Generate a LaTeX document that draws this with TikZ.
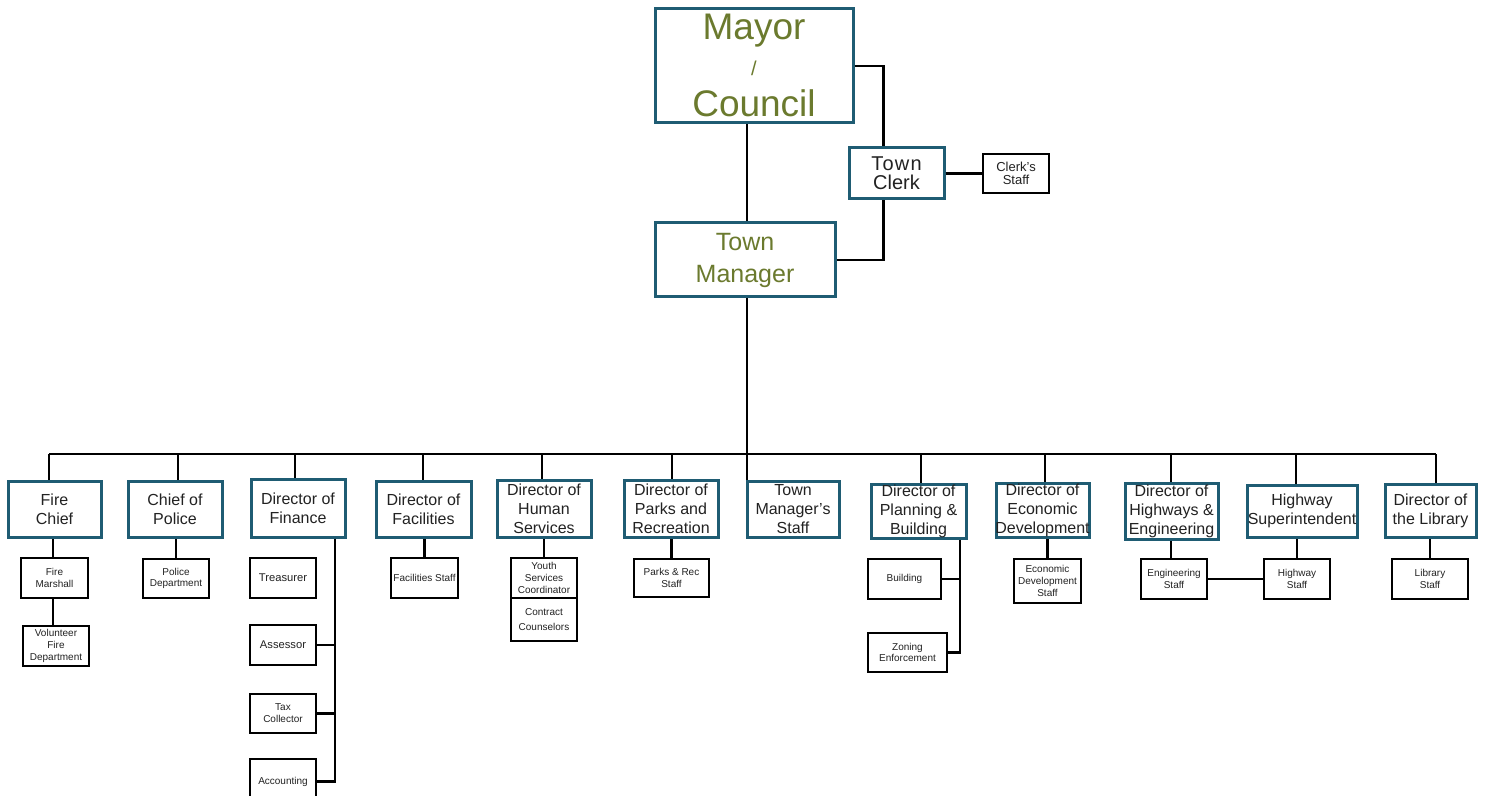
\documentclass[tikz,border=0pt]{standalone}
\usepackage{fontspec}
\setmainfont{Liberation Sans}
\definecolor{tealb}{HTML}{1F5C73}
\definecolor{oliveT}{HTML}{6B7A2E}
\definecolor{darkT}{HTML}{222222}
\newcommand\orgbox[8]{%
  \pgfmathsetmacro\obcx{(#3+#5)/2}%
  \pgfmathsetmacro\obcy{(#4+#6)/2}%
  \pgfmathsetmacro\obw{(#5-#3)/2}%
  \pgfmathsetmacro\obh{(#6-#4)/2}%
  \node[#1, minimum width=\obw pt, minimum height=\obh pt] (#2) at (\obcx,\obcy) {};
  \node[#7] (#2-t) at (#2.center) {#8};}
\begin{document}
\begin{tikzpicture}[x=0.5pt,y=-0.5pt,
  tbox/.style={draw=tealb, line width=1.5pt, fill=white, inner sep=0pt},
  kbox/.style={draw=black, line width=1.4pt, fill=white, inner sep=0pt},
  ttwo/.style={inner sep=0pt, align=center, text=darkT, font=\fontsize{8}{9.5}\selectfont},
  tthree/.style={inner sep=0pt, align=center, text=darkT, font=\fontsize{5}{5.9}\selectfont},
  tthreeb/.style={inner sep=0pt, align=center, text=darkT, font=\fontsize{5.6}{6.5}\selectfont},
  conn/.style={draw=black, line width=1.25pt}]
\fill[white] (0,0) rectangle (1491,796);
\path[use as bounding box] (0,0) rectangle (1491,796);
\clip (0,0) rectangle (1491,796);

% top level
\orgbox{tbox}{mayor}{655}{9}{853}{123}{inner sep=0pt}{}
\node[anchor=base, inner sep=0pt, text=oliveT, font=\fontsize{18.5}{18.5}\selectfont] (mayorA) at (754,40) {Mayor};
\node[anchor=base, inner sep=0pt, text=oliveT, font=\fontsize{10}{10}\selectfont] (mayorB) at (754,76) {/};
\node[anchor=base, inner sep=0pt, text=oliveT, font=\fontsize{18.5}{18.5}\selectfont] (mayorC) at (754,117) {Council};
\orgbox{tbox}{clerk}{849}{148}{944}{199}{inner sep=0pt, align=center, text=darkT, font=\fontsize{10}{9.5}\selectfont}{{\addfontfeature{LetterSpace=6}Town}\\Clerk}
\orgbox{kbox}{cstaff}{983}{154}{1049}{193}{inner sep=0pt, align=center, text=darkT, font=\fontsize{6.5}{6.3}\selectfont}{Clerk's\\Staff}
\orgbox{tbox}{tm}{655}{223}{835}{297}{inner sep=0pt, align=center, text=oliveT, font=\fontsize{12.5}{16}\selectfont}{Town\\Manager}

% connectors of the top
\coordinate (busL) at (49,454);
\coordinate (busR) at (1436,454);
\coordinate (busM) at (747,454);
\draw[conn] (busM |- mayor.south) -- (busM |- tm.north);
\draw[conn] (mayor.east) -| ([xshift=18pt]clerk.north west);
\draw[conn] ([xshift=18pt]clerk.south west) |- (tm.east);
\draw[conn] (clerk.east) -- (cstaff.west);
\draw[conn] (busM |- tm.south) -- (busM);
\draw[conn] (busL) -- (busR);

% second level
\orgbox{tbox}{fire}{8}{481}{101}{537}{ttwo}{Fire\\Chief}
\orgbox{tbox}{police}{128}{481}{222}{537}{ttwo}{Chief of\\Police}
\orgbox{tbox}{finance}{251}{479}{345}{537}{ttwo}{Director of\\Finance}
\orgbox{tbox}{facil}{376}{481}{471}{537}{ttwo}{Director of\\Facilities}
\orgbox{tbox}{human}{497}{480}{591}{537}{ttwo}{Director of\\Human\\Services}
\orgbox{tbox}{parks}{624}{480}{718}{537}{ttwo}{Director of\\Parks and\\Recreation}
\orgbox{tbox}{tmstaff}{747}{481}{839}{537}{ttwo}{Town\\Manager's\\Staff}
\orgbox{tbox}{plan}{871}{484}{966}{538}{ttwo}{Director of\\Planning \&\\Building}
\orgbox{tbox}{econ}{996}{483}{1089}{537}{ttwo}{Director of\\Economic\\Development}
\orgbox{tbox}{hwy}{1125}{483}{1218}{539}{ttwo}{Director of\\Highways \&\\Engineering}
\orgbox{tbox}{hsup}{1247}{485}{1357}{537}{ttwo}{Highway\\Superintendent}
\orgbox{tbox}{lib}{1385}{484}{1476}{537}{ttwo}{Director of\\the Library}

\foreach \n/\x in {fire/49, police/178, finance/295, facil/423, human/542, parks/672, tmstaff/747, plan/921, econ/1045, hwy/1171, hsup/1296, lib/1436}{
  \coordinate (drop-\n) at (\x,454);
  \draw[conn] (drop-\n) -- (drop-\n |- \n.north);
}

% third level
\orgbox{kbox}{fm}{21}{558}{88}{598}{tthree}{Fire\\Marshall}
\orgbox{kbox}{vfd}{23}{626}{89}{666}{tthree}{Volunteer\\Fire\\Department}
\orgbox{kbox}{pd}{143}{559}{209}{598}{tthree}{Police\\Department}
\orgbox{kbox}{treas}{250}{558}{316}{598}{tthreeb}{Treasurer}
\orgbox{kbox}{assess}{250}{625}{316}{665}{tthreeb}{Assessor}
\orgbox{kbox}{tax}{250}{694}{316}{733}{tthree}{Tax\\Collector}
\orgbox{kbox}{acct}{250}{759}{316}{804}{tthree}{Accounting}
\orgbox{kbox}{fstaff}{391}{558}{458}{598}{tthree}{Facilities Staff}
\orgbox{kbox}{youth}{511}{558}{577}{598}{tthree}{Youth\\Services\\Coordinator}
\orgbox{kbox}{contract}{511}{598}{577}{641}{inner sep=0pt, align=center, text=darkT, font=\fontsize{5}{7.5}\selectfont}{Contract\\Counselors}
\orgbox{kbox}{prs}{634}{559}{709}{597}{tthree}{Parks \& Rec\\Staff}
\orgbox{kbox}{bldg}{868}{559}{941}{599}{tthree}{Building}
\orgbox{kbox}{zoning}{868}{633}{947}{672}{tthree}{Zoning\\Enforcement}
\orgbox{kbox}{eds}{1014}{559}{1081}{603}{tthree}{Economic\\Development\\Staff}
\orgbox{kbox}{engs}{1141}{559}{1207}{599}{tthree}{Engineering\\Staff}
\orgbox{kbox}{hws}{1264}{559}{1330}{599}{tthree}{Highway\\Staff}
\orgbox{kbox}{libs}{1392}{559}{1468}{599}{tthree}{Library\\Staff}

% connectors of the third level
\coordinate (finx) at (335,0);
\coordinate (planx) at (960,0);
\draw[conn] ([xshift=-0.75pt]fm.north) -- ([xshift=-0.75pt]fm.north |- fire.south);
\draw[conn] ([xshift=-0.75pt]fm.south) -- ([xshift=-0.75pt]fm.south |- vfd.north);
\draw[conn] (pd.north) -- (pd.north |- police.south);
\draw[conn] (finx |- finance.south) |- (acct.east);
\draw[conn] (assess.east) -- (assess.east -| finx);
\draw[conn] (tax.east) -- (tax.east -| finx);
\draw[conn] (fstaff.north) -- (fstaff.north |- facil.south);
\draw[conn] (youth.north) -- (youth.north |- human.south);
\draw[conn] (prs.north) -- (prs.north |- parks.south);
\draw[conn] (planx |- plan.south) |- (zoning.east);
\draw[conn] (bldg.east) -- (bldg.east -| planx);
\draw[conn] (eds.north) -- (eds.north |- econ.south);
\draw[conn] ([xshift=-1.5pt]engs.north) -- ([xshift=-1.5pt]engs.north |- hwy.south);
\draw[conn] (engs.east) -- (hws.west);
\draw[conn] (hws.north) -- (hws.north |- hsup.south);
\draw[conn] (libs.north) -- (libs.north |- lib.south);
\end{tikzpicture}
\end{document}
